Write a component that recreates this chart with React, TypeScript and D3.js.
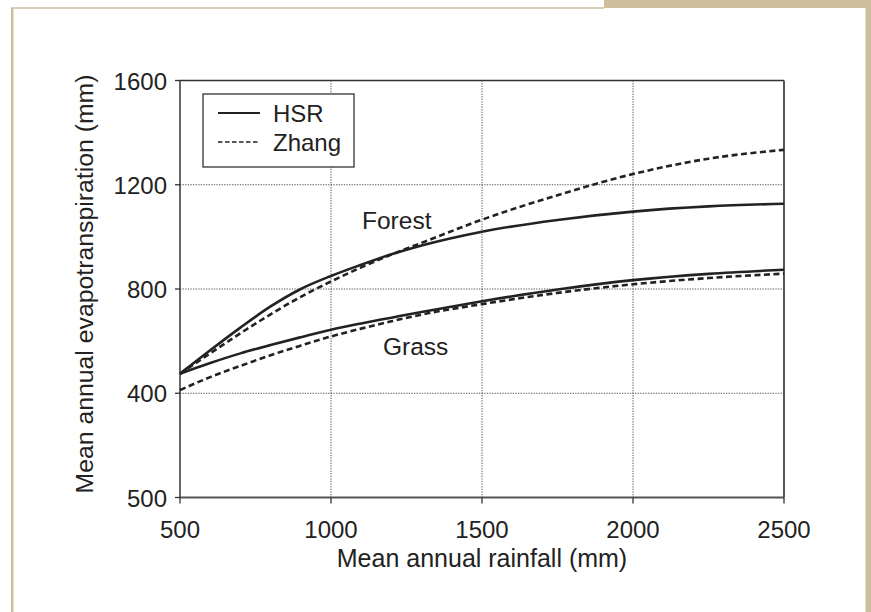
import React from "react";
import * as d3 from "d3";

const rainfall = [500, 600, 700, 800, 900, 1000, 1100, 1200, 1300, 1500, 1750, 2000, 2250, 2500];
const forestHSR = [475, 565, 652, 733, 800, 850, 893, 933, 967, 1020, 1065, 1097, 1117, 1127];
const forestZhang = [475, 553, 630, 703, 770, 829, 883, 932, 977, 1066, 1160, 1241, 1300, 1334];
const grassHSR = [475, 516, 553, 585, 615, 644, 668, 690, 712, 753, 798, 834, 858, 874];
const grassZhang = [412, 462, 505, 546, 583, 618, 648, 676, 702, 742, 785, 818, 842, 859];

const xTicks = [500, 1000, 1500, 2000, 2500];
const xTickLabels = ["500", "1000", "1500", "2000", "2500"];
const yTicks = [0, 400, 800, 1200, 1600];
const yTickLabels = ["500", "400", "800", "1200", "1600"];
const seriesNames = ["HSR", "Zhang"];
const curveLabels = ["Forest", "Grass"];

const W = 871;
const H = 612;
const FONT = "'Liberation Sans', Arial, Helvetica, sans-serif";
const BEIGE = "#cdbf9c";

export default function App() {
  const x = d3.scaleLinear().domain([500, 2500]).range([180, 784]);
  const y = d3.scaleLinear().domain([0, 1600]).range([497.5, 80.5]);
  const line = d3
    .line<number>()
    .x((_, i) => x(rainfall[i]))
    .y((d) => y(d))
    .curve(d3.curveMonotoneX);

  const series = [
    { vals: forestHSR, dash: null },
    { vals: forestZhang, dash: "6 3.5" },
    { vals: grassHSR, dash: null },
    { vals: grassZhang, dash: "6 3.5" },
  ];

  const [x0, x1] = x.range();
  const [yb, yt] = y.range();

  return (
    <svg
      width={W}
      height={H}
      style={{ position: "absolute", left: 0, top: 0, background: "#fff" }}
      fontFamily={FONT}
    >
      {/* beige frame */}
      <rect x={604} y={0} width={267} height={8} fill={BEIGE} />
      <line x1={11} x2={604} y1={8} y2={8} stroke={BEIGE} strokeWidth={1.5} />
      <rect x={11} y={8} width={2.5} height={H - 8} fill={BEIGE} />
      <rect x={865.5} y={0} width={5.5} height={H} fill={BEIGE} />

      {/* grid */}
      {xTicks
        .filter((v) => v !== 500 && v !== 2500)
        .map((v) => (
          <line
            key={"gx" + v}
            x1={x(v)}
            x2={x(v)}
            y1={yt}
            y2={yb}
            stroke="#555"
            strokeWidth={1}
            strokeDasharray="1.3 1.3"
          />
        ))}
      {yTicks
        .filter((v) => v !== 0 && v !== 1600)
        .map((v) => (
          <line
            key={"gy" + v}
            x1={x0}
            x2={x1}
            y1={y(v)}
            y2={y(v)}
            stroke="#555"
            strokeWidth={1}
            strokeDasharray="1.3 1.3"
          />
        ))}

      {/* plot border */}
      <line x1={x0} x2={x1} y1={yt} y2={yt} stroke="#333" strokeWidth={1.5} />
      <line x1={x1} x2={x1} y1={yt} y2={yb} stroke="#444" strokeWidth={1.8} />
      <line x1={x0} x2={x0} y1={yt} y2={yb} stroke="#333" strokeWidth={1.5} />
      <line x1={x0} x2={x1} y1={yb} y2={yb} stroke="#555" strokeWidth={2} />

      {/* ticks */}
      {yTicks.map((v, i) => (
        <g key={"yt" + v}>
          <line x1={x0 - 5} x2={x0} y1={y(v)} y2={y(v)} stroke="#333" strokeWidth={1.3} />
          <text x={167} y={y(v) + 9} textAnchor="end" fontSize={24} fill="#222">
            {yTickLabels[i]}
          </text>
        </g>
      ))}
      {xTicks.map((v, i) => (
        <g key={"xt" + v}>
          <line x1={x(v)} x2={x(v)} y1={yb} y2={yb + 6} stroke="#333" strokeWidth={1.3} />
          <text x={x(v)} y={538} textAnchor="middle" fontSize={24} fill="#222">
            {xTickLabels[i]}
          </text>
        </g>
      ))}

      {/* axis titles */}
      <text x={(x0 + x1) / 2} y={567} textAnchor="middle" fontSize={25} fill="#222">
        Mean annual rainfall (mm)
      </text>
      <text
        transform={`translate(93, 284) rotate(-90)`}
        textAnchor="middle"
        fontSize={24.8}
        fill="#222"
      >
        Mean annual evapotranspiration (mm)
      </text>

      {/* curves */}
      {series.map((s, i) => (
        <path
          key={"s" + i}
          d={line(s.vals) || ""}
          fill="none"
          stroke="#222"
          strokeWidth={2.6}
          strokeDasharray={s.dash || undefined}
        />
      ))}

      {/* curve labels */}
      <text x={362} y={229} fontSize={24.5} fill="#222">
        {curveLabels[0]}
      </text>
      <text x={383} y={355} fontSize={24.5} fill="#222">
        {curveLabels[1]}
      </text>

      {/* legend */}
      <rect x={203} y={94} width={151} height={73} fill="#fff" stroke="#333" strokeWidth={1.3} />
      <line x1={218} x2={260} y1={113} y2={113} stroke="#222" strokeWidth={2} />
      <line x1={218} x2={260} y1={142} y2={142} stroke="#222" strokeWidth={1.6} strokeDasharray="4.5 2.5" />
      <text x={273} y={122} fontSize={24} fill="#222">
        {seriesNames[0]}
      </text>
      <text x={273} y={151} fontSize={24} fill="#222">
        {seriesNames[1]}
      </text>
    </svg>
  );
}
